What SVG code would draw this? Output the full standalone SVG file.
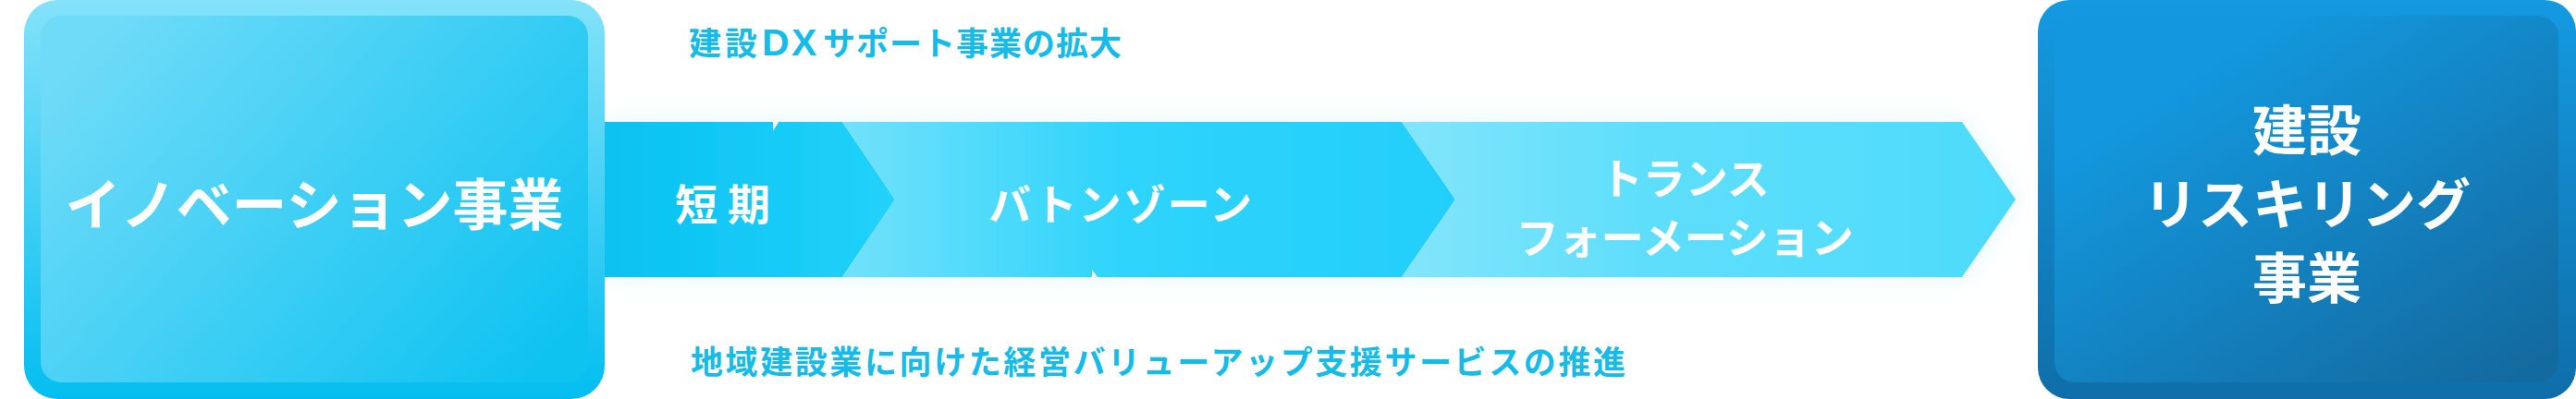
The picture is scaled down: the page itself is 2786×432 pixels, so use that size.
<svg xmlns="http://www.w3.org/2000/svg" width="2786" height="432" viewBox="0 0 2786 432">
<defs>
<linearGradient id="lOuter" x1="0" y1="0" x2="0" y2="1">
<stop offset="0" stop-color="#84e2fa"/><stop offset="1" stop-color="#02bef0"/>
</linearGradient>
<linearGradient id="lInner" x1="0" y1="0.2" x2="1" y2="0.8">
<stop offset="0" stop-color="#70dbf8"/><stop offset="1" stop-color="#0fc3f1"/>
</linearGradient>
<linearGradient id="rOuter" x1="0" y1="0" x2="0" y2="1">
<stop offset="0" stop-color="#149ae1"/><stop offset="1" stop-color="#0f6ea9"/>
</linearGradient>
<linearGradient id="rInner" x1="0.2" y1="0.2" x2="0.9" y2="1">
<stop offset="0" stop-color="#1398df"/><stop offset="1" stop-color="#136a9f"/>
</linearGradient>
<linearGradient id="s1" x1="0" y1="0" x2="1" y2="0">
<stop offset="0" stop-color="#07c1f0"/><stop offset="1" stop-color="#22d2fb"/>
</linearGradient>
<linearGradient id="s2" x1="0" y1="0" x2="1" y2="0">
<stop offset="0" stop-color="#72e1fb"/><stop offset="0.45" stop-color="#2fd4fb"/><stop offset="1" stop-color="#22cffb"/>
</linearGradient>
<linearGradient id="s3" x1="0" y1="0" x2="1" y2="0">
<stop offset="0" stop-color="#82e5fb"/><stop offset="0.4" stop-color="#5edefb"/><stop offset="1" stop-color="#4ddbfb"/>
</linearGradient>
<filter id="glow" x="-10%" y="-40%" width="120%" height="180%">
<feGaussianBlur in="SourceAlpha" stdDeviation="14" result="b"/>
<feFlood flood-color="#a8e8fb" flood-opacity="0.35"/>
<feComposite in2="b" operator="in" result="g"/>
<feMerge><feMergeNode in="g"/><feMergeNode in="SourceGraphic"/></feMerge>
</filter>
</defs>
<style>
.w{fill:#ffffff;font-family:"Noto Sans CJK JP","Noto Sans",sans-serif;font-weight:700}
.lbl{fill:#16bbe8;font-family:"Noto Sans CJK JP","Noto Sans",sans-serif;font-weight:700;font-size:35px}
.lat{font-family:"Liberation Sans","Noto Sans",sans-serif;font-size:41px}
</style>
<g id="connectors" filter="url(#glow)">
<polygon points="650,132 911,132 968,216 911,300 650,300" fill="url(#s1)"/>
<polygon points="911,132 1516,132 1574,216 1516,300 911,300 968,216" fill="url(#s2)"/>
<polygon points="1516,132 2122,132 2180,216 2122,300 1516,300 1574,216" fill="url(#s3)"/>
<polygon points="836,132 842,132 836,142" fill="#ffffff"/>
<polygon points="1181,292 1181,300 1187,300" fill="#ffffff"/>
</g>
<g id="innovation">
<rect x="26" y="0" width="628" height="432" rx="36" fill="url(#lOuter)"/>
<rect x="44" y="17" width="592" height="397" rx="22" fill="url(#lInner)"/>
<text class="w" x="340" y="244" font-size="60" text-anchor="middle">イノベーション事業</text>
</g>
<g id="short-term">
<text class="w" x="730" y="238" font-size="46" letter-spacing="11">短期</text>
</g>
<g id="baton-zone">
<text class="w" x="1069" y="238" font-size="46" letter-spacing="2">バトンゾーン</text>
</g>
<g id="transformation">
<text class="w" x="1822" y="210" font-size="46" text-anchor="middle">トランス</text>
<text class="w" x="1822" y="274" font-size="46" text-anchor="middle">フォーメーション</text>
</g>
<g id="reskilling">
<rect x="2204" y="0" width="582" height="432" rx="34" fill="url(#rOuter)"/>
<rect x="2222" y="17" width="545" height="397" rx="22" fill="url(#rInner)"/>
<text class="w" x="2495" y="163" font-size="59" text-anchor="middle">建設</text>
<text class="w" x="2495" y="243" font-size="59" text-anchor="middle">リスキリング</text>
<text class="w" x="2495" y="323" font-size="59" text-anchor="middle">事業</text>
</g>
<g id="label-top">
<text class="lbl" y="60"><tspan x="745" letter-spacing="4">建設</tspan><tspan class="lat" x="824">D</tspan><tspan class="lat" x="856">X</tspan><tspan x="890" textLength="323" lengthAdjust="spacing">サポート事業の拡大</tspan></text>
</g>
<g id="label-bottom">
<text class="lbl" x="747" y="405" textLength="1011" lengthAdjust="spacing">地域建設業に向けた経営バリューアップ支援サービスの推進</text>
</g>
</svg>
